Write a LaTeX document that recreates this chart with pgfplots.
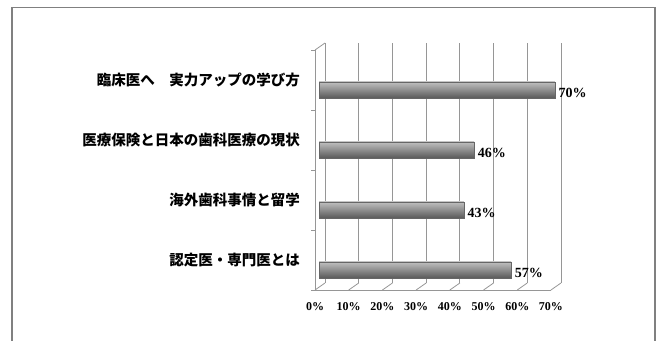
\documentclass[border=0pt]{standalone}
\usepackage{pgfplots}
\pgfplotsset{compat=1.18}
\usepackage{fontspec}
\setmainfont{Liberation Serif}
\newfontfamily\jp{Noto Sans CJK JP}
\definecolor{ln}{RGB}{150,150,150}
\definecolor{frame}{RGB}{128,128,128}
\pgfplotsset{
  cylbar/.style={xbar, bar width=16bp, bar shift=-10bp, xshift=4bp,
    draw=black!60, top color=black!25, middle color=black!40, bottom color=black!65,
    point meta=x,
    nodes near coords={\pgfmathprintnumber{\pgfplotspointmeta}\%},
    nodes near coords style={font=\fontsize{14bp}{15bp}\selectfont\bfseries, text=black, anchor=west, inner sep=1.5bp, xshift=2bp, yshift=-13bp}},
}
\begin{document}
\begin{tikzpicture}
\path[use as bounding box] (0bp,0bp) rectangle (661bp,341bp);
\draw[frame, line width=1.5bp] (12bp,-5bp) -- (12bp,333.5bp) -- (655bp,333.5bp) -- (655bp,-5bp);
\begin{axis}[
  at={(315bp,51bp)}, anchor=south west,
  x=3.371bp, y=60bp,
  xmin=0, xmax=70, ymin=-0.5, ymax=3.5,
  axis x line*=bottom, axis y line*=left,
  axis line style={ln, line width=0.8bp, -},
  major tick length=0pt,
  /pgf/number format/assume math mode=true,
  xtick={0,10,...,70},
  xticklabel={\pgfmathprintnumber{\tick}\%},
  xtick style={draw=none},
  xticklabel style={font=\fontsize{12bp}{13bp}\selectfont\bfseries, inner sep=0pt, anchor=north, yshift=-12bp},
  xmajorgrids,
  major grid style={ln, line width=0.8bp, xshift=10bp, yshift=7bp},
  ytick={0,1,2,3},
  yticklabels={認定医・専門医とは, 海外歯科事情と留学, 医療保険と日本の歯科医療の現状, 臨床医へ　実力アップの学び方},
  yticklabel style={font=\jp\bfseries\fontsize{14.5bp}{16bp}\selectfont, anchor=east, inner sep=0pt, xshift=-15bp},
  extra y ticks={-0.5,0.5,1.5,2.5,3.5},
  extra y tick labels={},
  extra y tick style={major tick length=4bp, tick align=outside, ytick style={draw=ln, line width=0.8bp}},
  clip=false,
]
\addplot[cylbar] coordinates {(57,0)};
\addplot[cylbar] coordinates {(43,1)};
\addplot[cylbar] coordinates {(46,2)};
\addplot[cylbar] coordinates {(70,3)};
\pgfplotsinvokeforeach{0,10,...,70}{
  \draw[ln, line width=0.8bp] (axis cs:#1,-0.5) -- ++(10bp,7bp);
}
\draw[ln, line width=0.8bp] (axis cs:0,3.5) -- ++(10bp,7bp);
\end{axis}
\end{tikzpicture}
\end{document}
